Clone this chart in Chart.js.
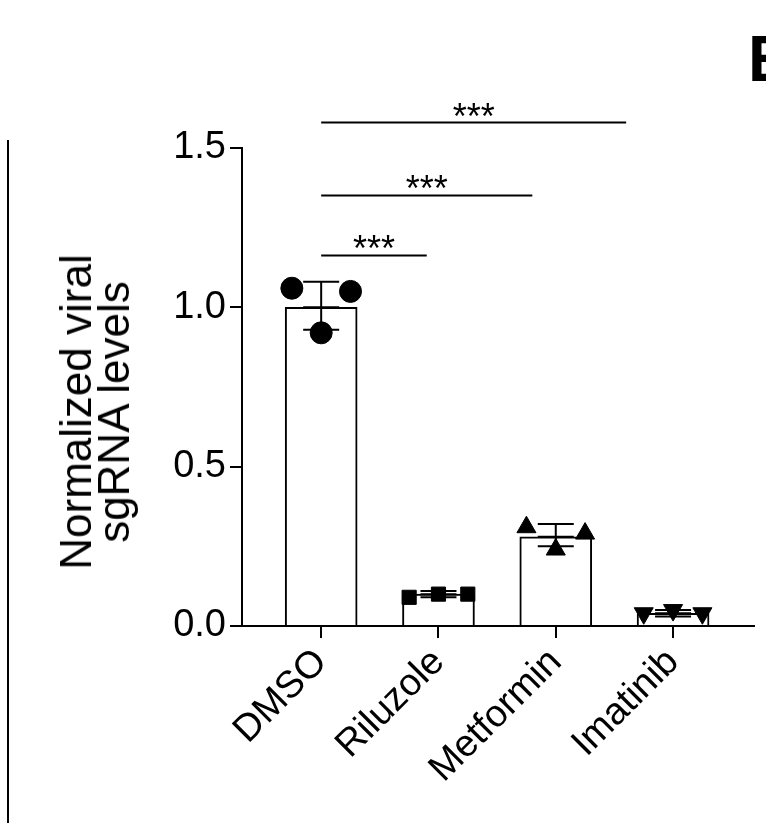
<!DOCTYPE html>
<html><head><meta charset="utf-8">
<script src="https://cdn.jsdelivr.net/npm/chart.js@4"></script>
<style>
body{margin:0;width:766px;height:823px;overflow:hidden;background:#fff;font-family:"Liberation Sans",Arial,sans-serif;position:relative}
#wrap{position:absolute;left:0;top:0;width:766px;height:823px}
#ytitle{position:absolute;left:95px;top:412px;transform:translate(-50%,-50%) rotate(-90deg);font-size:44px;line-height:38px;text-align:center;white-space:nowrap;color:#000}
#vline{position:absolute;left:7px;top:140px;width:2px;height:683px;background:#000}
#E{position:absolute;left:748px;top:22px;font-size:64px;font-weight:bold;color:#000;font-family:"Liberation Sans",Arial,sans-serif}
</style></head><body>
<div id="wrap"><canvas id="c" width="766" height="823"></canvas></div>
<div id="vline"></div>
<div id="E">E</div>
<div id="ytitle">Normalized viral<br>sgRNA levels</div>
<script>
const categories=["DMSO","Riluzole","Metformin","Imatinib"];
const means=[1.0,0.10,0.28,0.04];
const errLow=[0.93,0.09,0.25,0.03];
const errHigh=[1.08,0.11,0.32,0.05];
const pointOffsets=[-0.25,0,0.25];
const dmsoPts=[1.06,0.92,1.05];
const riluzolePts=[0.09,0.10,0.10];
const metforminPts=[0.31,0.24,0.29];
const imatinibPts=[0.04,0.05,0.04];
const yTicks=[0,0.5,1.0,1.5];
const sigPairs=[[0,0.9,1.163],[0,1.8,1.351],[0,2.6,1.58]];
const sigLabel="***";

const allPts=[dmsoPts,riluzolePts,metforminPts,imatinibPts];
const styles=['circle','rect','triangle','triangle'];
const rot=[0,0,0,180];
const ptDatasets=allPts.map((arr,i)=>({type:'scatter',data:arr.map((v,j)=>({x:i+pointOffsets[j],y:v})),
  pointStyle:styles[i],rotation:rot[i],pointRadius:i==1?10:11,backgroundColor:'#000',borderColor:'#000',order:0}));

const overlay={id:'ov',afterDatasetsDraw(ch){
  const c=ch.ctx,x=ch.scales.x,y=ch.scales.y;
  c.save();c.strokeStyle='#000';c.lineWidth=2;
  means.forEach((m,i)=>{
    const px=x.getPixelForValue(i),w=18;
    const a=y.getPixelForValue(errLow[i]),b=y.getPixelForValue(errHigh[i]);
    c.beginPath();c.moveTo(px,a);c.lineTo(px,b);
    c.moveTo(px-w,a);c.lineTo(px+w,a);c.moveTo(px-w,b);c.lineTo(px+w,b);
    c.moveTo(px-w,y.getPixelForValue(m));c.lineTo(px+w,y.getPixelForValue(m));c.stroke();
  });
  c.fillStyle='#000';c.font='36px "Liberation Sans",Arial';c.textAlign='center';c.textBaseline='alphabetic';
  sigPairs.forEach(([a,b,v])=>{
    const x1=x.getPixelForValue(a),x2=x.getPixelForValue(b),py=y.getPixelForValue(v);
    c.beginPath();c.moveTo(x1,py);c.lineTo(x2,py);c.stroke();
    c.fillText(sigLabel,(x1+x2)/2,py+6);
  });
  c.restore();
}};

new Chart(document.getElementById('c'),{
  data:{datasets:[{type:'bar',data:means.map((v,i)=>({x:i,y:v})),backgroundColor:'#fff',borderColor:'#000',borderWidth:2,barThickness:72,order:2},...ptDatasets]},
  options:{responsive:false,animation:false,
    layout:{padding:{top:148,right:0,left:0,bottom:0}},
    plugins:{legend:{display:false},tooltip:{enabled:false}},
    scales:{
      x:{type:'linear',min:-0.675,max:3.69,offset:false,
        afterBuildTicks(s){s.ticks=categories.map((_,i)=>({value:i}));},
        afterFit(s){s.height=197;},
        ticks:{autoSkip:false,minRotation:45,maxRotation:45,color:'#000',font:{size:38,family:'"Liberation Sans",Arial'},padding:2,callback:v=>categories[v]},
        grid:{offset:false,drawOnChartArea:false,drawTicks:true,tickLength:12,color:'#000',lineWidth:2},
        border:{color:'#000',width:2}},
      y:{min:0,max:1.5,
        afterBuildTicks(s){s.ticks=yTicks.map(v=>({value:v}));},
        afterFit(s){s.width=242;},
        ticks:{color:'#000',font:{size:38,family:'"Liberation Sans",Arial'},padding:4,callback:v=>v.toFixed(1)},
        grid:{drawOnChartArea:false,drawTicks:true,tickLength:12,color:'#000',lineWidth:2},
        border:{color:'#000',width:2}}
    }},
  plugins:[overlay]
});
</script>
</body></html>
